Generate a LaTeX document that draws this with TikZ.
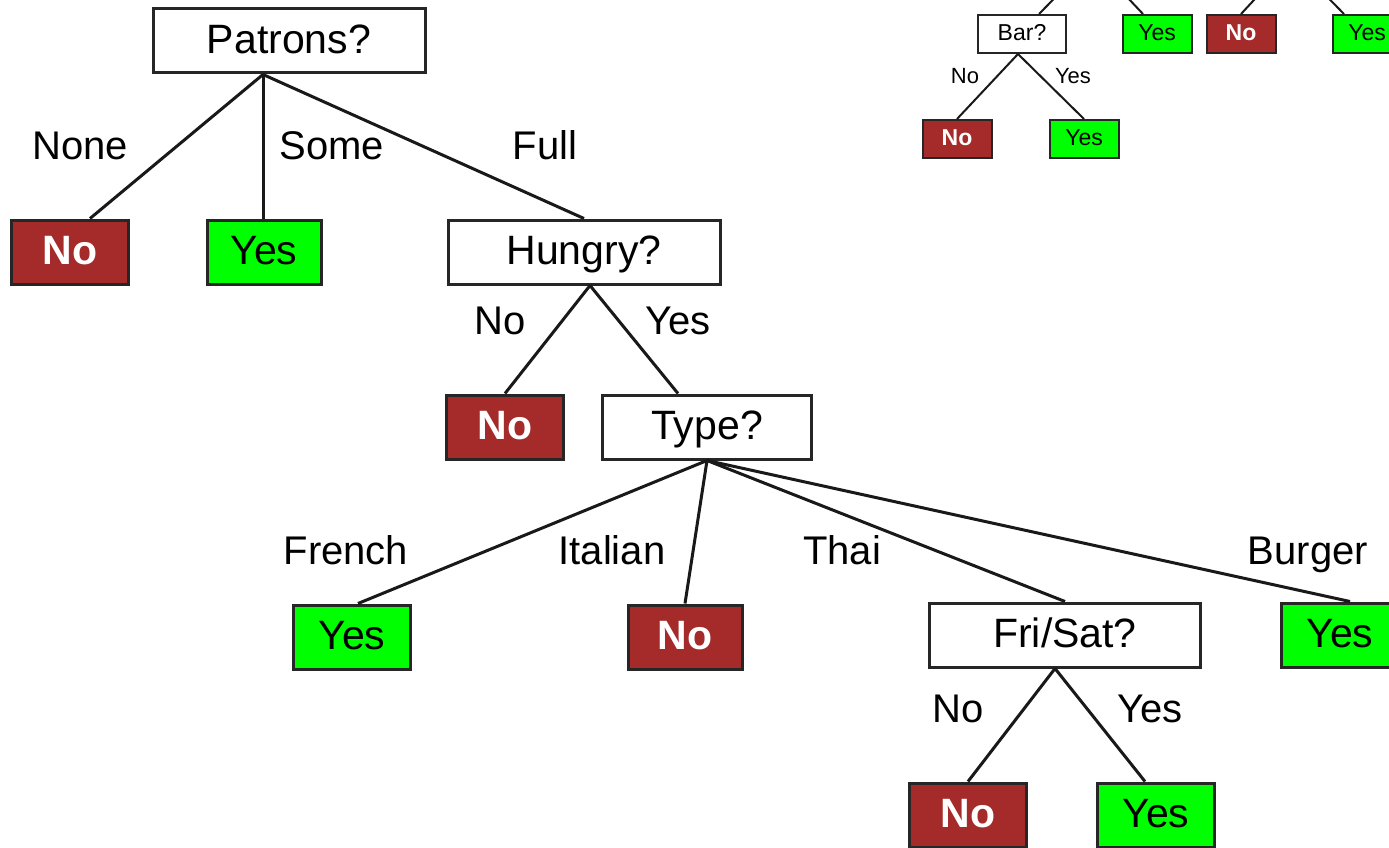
\documentclass[tikz,border=0pt]{standalone}
\usepackage{fontspec}
\setmainfont{Liberation Sans}
\usetikzlibrary{positioning}
\definecolor{nored}{RGB}{165,42,42}
\definecolor{yesgreen}{RGB}{0,255,0}

\begin{document}
\begin{tikzpicture}[x=1pt,y=-1pt]
        \tikzstyle{every node}+=[inner sep=0pt]
        \tikzstyle{test}=[draw=black!85, line width=3pt, fill=white, minimum height=64pt, text height=30pt, text depth=5pt, font=\fontsize{41}{48}\selectfont]
        \tikzstyle{noleaf}=[test, fill=nored, text=white, minimum width=117pt, font=\bfseries\fontsize{41}{48}\selectfont]
        \tikzstyle{yesleaf}=[test, fill=yesgreen, minimum width=117pt]
        \tikzstyle{smalltest}=[draw=black!85, line width=2pt, fill=white, minimum height=38pt, text height=17pt, text depth=3pt, font=\fontsize{23}{28}\selectfont]
        \tikzstyle{smallno}=[smalltest, fill=nored, text=white, minimum width=69pt, font=\bfseries\fontsize{23}{28}\selectfont]
        \tikzstyle{smallyes}=[smalltest, fill=yesgreen, minimum width=69pt]
        \tikzstyle{lbl}=[anchor=base, font=\fontsize{40}{48}\selectfont]
        \tikzstyle{smalllbl}=[anchor=base, font=\fontsize{22}{26}\selectfont]
        \tikzstyle{edge}=[draw=black!90, line width=3pt]
        \tikzstyle{smalledge}=[draw=black!90, line width=2pt]
        \useasboundingbox (0,0) rectangle (1389,848);
        \clip (0,0) rectangle (1389,848);
        \fill [white] (0,0) rectangle (1389,848);
        \coordinate (barpar) at (1092,-40);
        \coordinate (rpar) at (1291,-40);
        \node [test, minimum width=272pt] (pat) at (289,41) {Patrons?};
        \node [noleaf] (n1) at (70,252) {No};
        \node [yesleaf, minimum width=114pt] (y1) at (264,252) {Yes};
        \node [test, minimum width=272pt] (hun) at (584,252) {Hungry?};
        \node [noleaf] (n2) at (505,427) {No};
        \node [test, minimum width=209pt] (typ) at (707,427) {Type?};
        \node [yesleaf] (y3) at (352,637) {Yes};
        \node [noleaf, minimum width=114pt] (n3) at (685,637) {No};
        \node [test, minimum width=271pt] (fri) at (1065,635) {Fri/Sat?};
        \node [yesleaf] (y4) at (1340,635) {Yes};
        \node [noleaf] (n4) at (968,815) {No};
        \node [yesleaf] (y5) at (1156,815) {Yes};
        \node [smalltest, minimum width=88pt] (bar) at (1022,34) {Bar?};
        \node [smallyes] (sy1) at (1157,34) {Yes};
        \node [smallno] (sn1) at (1241,34) {No};
        \node [smallyes] (sy2) at (1367,34) {Yes};
        \node [smallno] (sn2) at (957,139) {No};
        \node [smallyes] (sy3) at (1084,139) {Yes};
        \draw [edge] ([xshift=-26pt]pat.south) -- ([xshift=20pt]n1.north);
        \draw [edge] ([xshift=-26pt]pat.south) -- ([xshift=-1pt]y1.north);
        \draw [edge] ([xshift=-26pt]pat.south) -- (hun.north);
        \draw [edge] ([xshift=6pt]hun.south) -- (n2.north);
        \draw [edge] ([xshift=6pt]hun.south) -- ([xshift=-29pt]typ.north);
        \draw [edge] (typ.south) -- ([xshift=6pt]y3.north);
        \draw [edge] (typ.south) -- (n3.north);
        \draw [edge] (typ.south) -- (fri.north);
        \draw [edge] (typ.south) -- ([xshift=10pt]y4.north);
        \draw [edge] ([xshift=-10pt]fri.south) -- (n4.north);
        \draw [edge] ([xshift=-10pt]fri.south) -- ([xshift=-11pt]y5.north);
        \draw [smalledge] (barpar) -- ([xshift=17pt]bar.north);
        \draw [smalledge] (barpar) -- ([xshift=-14pt]sy1.north);
        \draw [smalledge] (rpar) -- (sn1.north);
        \draw [smalledge] (rpar) -- ([xshift=-23pt]sy2.north);
        \draw [smalledge] ([xshift=-4pt]bar.south) -- (sn2.north);
        \draw [smalledge] ([xshift=-4pt]bar.south) -- (sy3.north);
        \node [lbl] (lnone) at (80,159) {None};
        \node [lbl] (lsome) at (332,159) {Some};
        \node [lbl] (lfull) at (545,159) {Full};
        \node [lbl] (lhno) at (500,334) {No};
        \node [lbl] (lhyes) at (678,334) {Yes};
        \node [lbl] (lfrench) at (346,564) {French};
        \node [lbl] (litalian) at (612,564) {Italian};
        \node [lbl] (lthai) at (842,564) {Thai};
        \node [lbl] (lburger) at (1308,564) {Burger};
        \node [lbl] (lfno) at (958,722) {No};
        \node [lbl] (lfyes) at (1150,722) {Yes};
        \node [smalllbl] (lbno) at (965,84) {No};
        \node [smalllbl] (lbyes) at (1073,84) {Yes};
\end{tikzpicture}
\end{document}
